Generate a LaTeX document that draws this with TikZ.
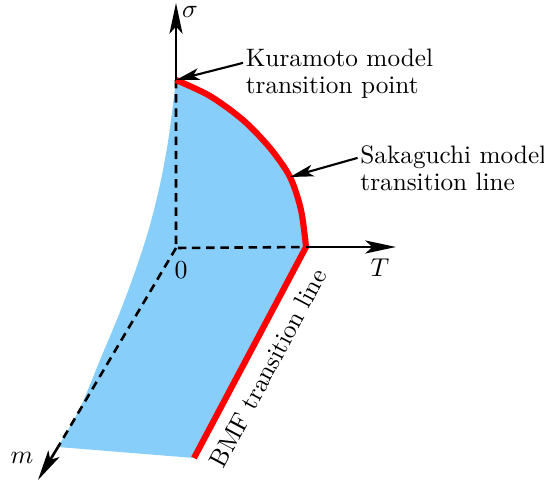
\documentclass[tikz,border=0pt]{standalone}
\usepackage{amsmath}
\usepackage{xcolor}
\usepackage{tikz}
\usetikzlibrary{
arrows.meta,
calc
}

\definecolor{phaseblue}{RGB}{135,206,250}

\begin{document}
\begin{tikzpicture}[
x=0.424pt,y=-0.424pt,
every node/.style={font=\fontsize{10.7pt}{11.5pt}\selectfont},
axis/.style={line width=1.1pt,-{Stealth[length=13pt,width=5.5pt,inset=3pt]}},
hidden/.style={line width=1.1pt,dash pattern=on 3.6pt off 2.4pt},
crit/.style={red,line width=2.6pt,line join=round},
note/.style={align=left,inner sep=1pt},
arrow/.style={line width=0.9pt,-{Stealth[length=10pt,width=5pt,inset=2.5pt]}}
]
\useasboundingbox (0,0) rectangle (544,482);

\coordinate (O) at (176,248);
\coordinate (kpt) at (176,80);
\coordinate (tc) at (306,247);
\coordinate (bmf) at (194,458);
\coordinate (mend) at (58,447);
\coordinate (sigtip) at (176,3);
\coordinate (ttip) at (396,247);
\coordinate (mtip) at (38,480);
\coordinate (spt) at (290,177);

% region
\fill[phaseblue] plot[smooth] coordinates {(176,80) (210,96) (243,120) (270,148) (290,177) (301,210) (306,247)}
  -- (bmf) -- (mend)
  -- plot[smooth] coordinates {(58,447) (80,408) (100,360) (120,312) (137,266) (150,225) (161,180) (169,135) (176,80)}
  -- cycle;

\draw[hidden] (kpt) -- (O) -- (tc);
\draw[hidden] (O) -- (mend);

\draw[crit] plot[smooth] coordinates {(176,80) (210,96) (243,120) (270,148) (290,177) (301,210) (306,247)} -- (bmf);

\draw[axis] (kpt) -- (sigtip);
\draw[axis] (tc) -- (ttip);
\draw[axis] (mend) -- (mtip);

\node[inner sep=1pt] (sig) at (190,12) {$\sigma$};
\node (tlbl) at (380,268) {$T$};
\node (zero) at (181,270) {$0$};
\node (mlbl) at (22,458) {$m$};

\node[note,anchor=west] (kura) at (243,73.5) {Kuramoto model\\transition point};
\node[note,anchor=west] (saka) at (357.6,168.5) {Sakaguchi model\\transition line};
\node[rotate=62] (bmflbl) at (268,368) {BMF transition line};

\draw[arrow] ([yshift=4.5pt]kura.west) -- (kpt);
\draw[arrow] ([yshift=4.5pt]saka.west) -- (spt);

\end{tikzpicture}
\end{document}
